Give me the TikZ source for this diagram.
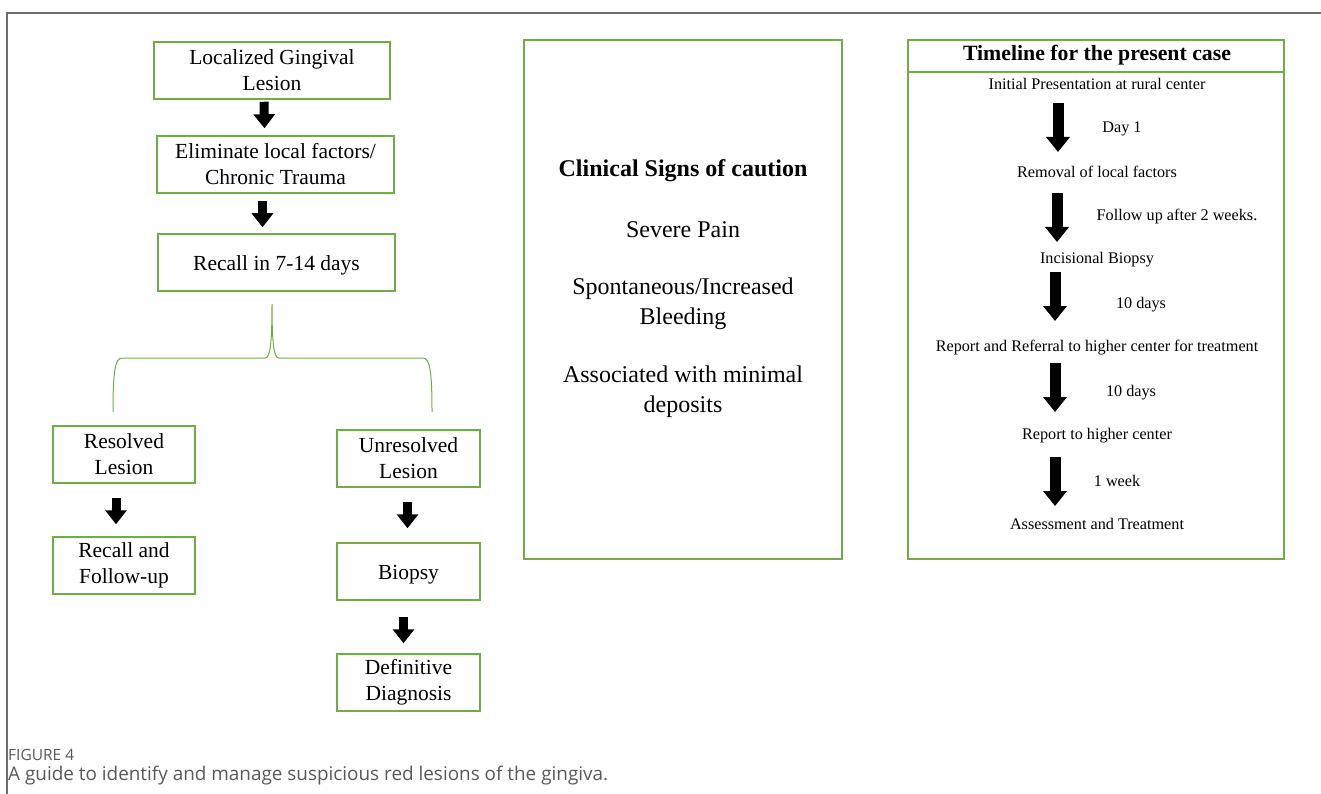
\documentclass[tikz,border=0pt]{standalone}
\usepackage{fontspec}
\setmainfont{Liberation Serif}
\newfontfamily\capfont{Open Sans}
\usetikzlibrary{arrows.meta,calc}
\definecolor{boxgreen}{HTML}{70AD47}
\definecolor{framegray}{HTML}{6E6E6E}
\definecolor{capgray}{HTML}{595959}
\begin{document}
\begin{tikzpicture}[x=1pt,y=-1pt,
  box/.style={draw=boxgreen,line width=1.5pt,minimum height=57pt,align=center,inner sep=0pt,font=\fontsize{21.5}{26}\selectfont,execute at begin node={\rule{0pt}{20.5pt}}},
  bigarrow/.style={line width=9pt,-{Triangle[width=21pt,length=14pt]}},
  tlarrow/.style={line width=11pt,-{Triangle[width=23pt,length=15pt]}},
  tltext/.style={font=\fontsize{16.2}{19}\selectfont,inner sep=0pt},
  midtext/.style={font=\fontsize{24}{30}\selectfont,inner sep=0pt,align=center},
  bracestyle/.style={draw=boxgreen,line width=1pt}
]
\useasboundingbox (0,0) rectangle (1321,794);
% frame
\draw[framegray,line width=1.2pt] (1321,13) -- (7,13) -- (7,794);

% left flowchart
\node[box,minimum width=236pt] (b1) at (272,70.5) {Localized Gingival\\Lesion};
\node[box,minimum width=237pt] (b2) at (275.5,164.5) {Eliminate local factors/\\Chronic Trauma};
\node[box,minimum width=237pt] (b3) at (276.5,262.5) {Recall in 7-14 days};
\node[box,minimum width=142pt] (res) at (124,454.5) {Resolved\\Lesion};
\node[box,minimum width=142pt] (rec) at (124,565.5) {Recall and\\Follow-up};
\node[box,minimum width=143pt] (unr) at (408.5,458.5) {Unresolved\\Lesion};
\node[box,minimum width=143pt] (bio) at (408.5,571.5) {Biopsy};
\node[box,minimum width=143pt] (def) at (408.5,682.5) {Definitive\\Diagnosis};

\draw[bigarrow] ($(b1.south)+(-8,2)$) -- ($(b2.north)+(-11,-7)$);
\draw[bigarrow] ($(b2.south)+(-13,7)$) -- ($(b3.north)+(-14,-6)$);
\draw[bigarrow] ($(res.south)+(-8,14)$) -- ($(rec.north)+(-8,-12)$);
\draw[bigarrow] ($(unr.south)+(-1,14)$) -- ($(bio.north)+(-1,-14)$);
\draw[bigarrow] ($(bio.south)+(-5,16)$) -- ($(def.north)+(-5,-10)$);

% brace
\coordinate (bt) at (272,304);
\coordinate (bl) at (113,412);
\coordinate (br) at (432,412);
\draw[bracestyle] (bl) .. controls (113,372) and (115,358) .. (122,358)
  -- (265,358) .. controls (270,358) and (272,345) .. (bt)
  .. controls (272,345) and (274,358) .. (279,358)
  -- (423,358) .. controls (430,358) and (432,372) .. (br);

% middle box
\node[draw=boxgreen,line width=1.2pt,minimum width=318pt,minimum height=519pt,inner sep=0pt] (mid) at (683,299.5) {};
\node[midtext,font=\fontsize{24}{30}\selectfont\bfseries] (m1) at (683,171) {Clinical Signs of caution};
\node[midtext] (m2) at (683,230) {Severe Pain};
\node[midtext] (m3) at (683,304) {Spontaneous/Increased\\Bleeding};
\node[midtext] (m4) at (683,392) {Associated with minimal\\deposits};

% timeline box
\node[draw=boxgreen,line width=2.5pt,minimum width=376pt,minimum height=519pt,inner sep=0pt] (tl) at (1096,299.5) {};
\coordinate (dl) at (908,72);
\coordinate (dr) at (1284,72);
\draw[boxgreen,line width=2pt] (dl) -- (dr);
\node[font=\fontsize{21.8}{24}\selectfont\bfseries,inner sep=0pt] (tt) at (1097,55) {Timeline for the present case};

\node[tltext] (t1) at (1097,84) {Initial Presentation at rural center};
\node[tltext] (t2) at (1097,172) {Removal of local factors};
\node[tltext] (t3) at (1097,260) {Incisional Biopsy};
\node[tltext] (t4) at (1097,348) {Report and Referral to higher center for treatment};
\node[tltext] (t5) at (1097,436) {Report to higher center};
\node[tltext] (t6) at (1097,524) {Assessment and Treatment};

\coordinate (a1s) at (1058,103); \coordinate (a1e) at (1058,152);
\coordinate (a2s) at (1057,193); \coordinate (a2e) at (1057,242);
\coordinate (a3s) at (1055,272); \coordinate (a3e) at (1055,321);
\coordinate (a4s) at (1055,363); \coordinate (a4e) at (1055,412);
\coordinate (a5s) at (1055,457); \coordinate (a5e) at (1055,506);
\draw[tlarrow] (a1s) -- (a1e);
\draw[tlarrow] (a2s) -- (a2e);
\draw[tlarrow] (a3s) -- (a3e);
\draw[tlarrow] (a4s) -- (a4e);
\draw[tlarrow] (a5s) -- (a5e);
\node[tltext] (l1) at (1122,129) {Day 1};
\node[tltext] (l2) at (1177,217) {Follow up after 2 weeks.};
\node[tltext] (l3) at (1141,305) {10 days};
\node[tltext] (l4) at (1131,393) {10 days};
\node[tltext] (l5) at (1117,481) {1 week};

% caption
\node[anchor=west,inner sep=0pt,text=capgray,font=\capfont\fontsize{15.5}{17}\selectfont] (fig) at (8,755) {FIGURE 4};
\node[anchor=west,inner sep=0pt,text=capgray,font=\capfont\fontsize{18.9}{22}\selectfont] (cap) at (8,776) {A guide to identify and manage suspicious red lesions of the gingiva.};
\end{tikzpicture}
\end{document}
